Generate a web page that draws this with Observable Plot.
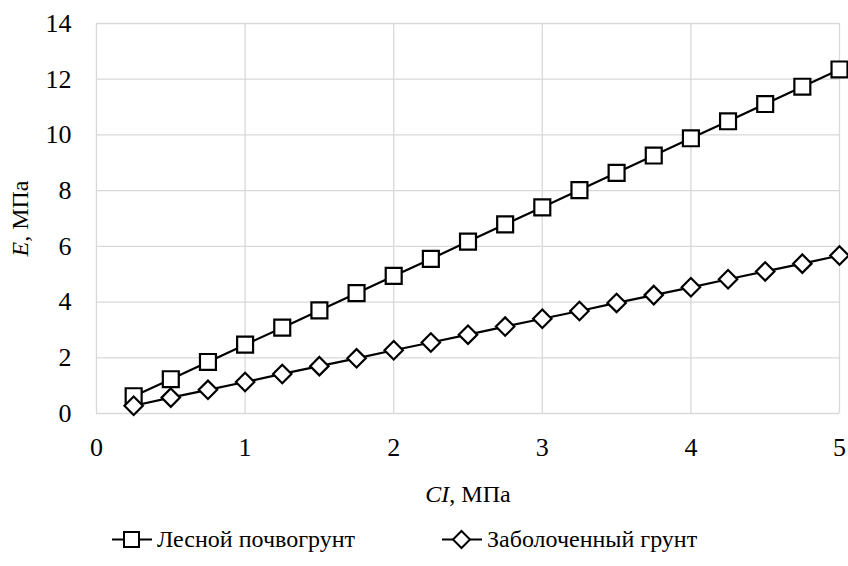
<!DOCTYPE html>
<html>
<head>
<meta charset="utf-8">
<script src="https://cdn.jsdelivr.net/npm/d3@7"></script>
<script src="https://cdn.jsdelivr.net/npm/@observablehq/plot@0.6"></script>
<style>
  html, body { margin: 0; padding: 0; background: #fff; }
  #chart { width: 848px; font-family: "Liberation Serif", "Times New Roman", serif; }
  #legend { position: relative; height: 56px; font-size: 24px; color: #000; }
  .item { display: flex; align-items: center; position: absolute; }
</style>
</head>
<body>
<div id="chart"></div>
<script>
const ci = [0.25, 0.5, 0.75, 1, 1.25, 1.5, 1.75, 2, 2.25, 2.5, 2.75, 3, 3.25, 3.5, 3.75, 4, 4.25, 4.5, 4.75, 5];
const forestSoil = [0.62, 1.23, 1.85, 2.47, 3.08, 3.70, 4.32, 4.94, 5.55, 6.17, 6.79, 7.40, 8.02, 8.64, 9.26, 9.88, 10.49, 11.11, 11.73, 12.35];
const swampSoil = [0.28, 0.57, 0.85, 1.13, 1.42, 1.70, 1.98, 2.27, 2.55, 2.83, 3.12, 3.40, 3.68, 3.97, 4.25, 4.53, 4.82, 5.10, 5.38, 5.67];
const seriesNames = ["Лесной почвогрунт", "Заболоченный грунт"];
const xTicks = [0, 1, 2, 3, 4, 5];
const yTicks = [0, 2, 4, 6, 8, 10, 12, 14];

const rows1 = ci.map((x, i) => ({x, y: forestSoil[i]}));
const rows2 = ci.map((x, i) => ({x, y: swampSoil[i]}));

const plot = Plot.plot({
  width: 848,
  height: 510,
  marginTop: 23,
  marginBottom: 97,
  marginLeft: 96,
  marginRight: 9,
  style: {fontFamily: "'Liberation Serif', 'Times New Roman', serif", fontSize: "24px", color: "#000", background: "#fff", overflow: "visible"},
  x: {domain: [0, 5]},
  y: {domain: [0, 14]},
  marks: [
    Plot.gridX(xTicks, {stroke: "#d9d9d9", strokeOpacity: 1, strokeWidth: 1.3}),
    Plot.gridY(yTicks, {stroke: "#d9d9d9", strokeOpacity: 1, strokeWidth: 1.3}),
    Plot.axisX(xTicks, {tickSize: 0, tickPadding: 24, tickFormat: d3.format("d"), label: null, fontSize: 26}),
    Plot.axisX({ticks: [], label: "CI, МПа", labelAnchor: "center", labelArrow: "none", labelOffset: 88, fontSize: 24}),
    Plot.axisY(yTicks, {tickSize: 0, tickPadding: 25, tickFormat: d3.format("d"), label: null, fontSize: 26}),
    Plot.axisY({ticks: [], label: "E, МПа", labelAnchor: "center", labelArrow: "none", labelOffset: 86, fontSize: 24}),
    Plot.line(rows1, {x: "x", y: "y", stroke: "#000", strokeWidth: 2.2}),
    Plot.line(rows2, {x: "x", y: "y", stroke: "#000", strokeWidth: 2.2}),
    Plot.dot(rows1, {x: "x", y: "y", symbol: "square", r: 9, fill: "#fff", stroke: "#000", strokeWidth: 2.2}),
    Plot.dot(rows2, {x: "x", y: "y", symbol: "diamond2", r: 8.3, fill: "#fff", stroke: "#000", strokeWidth: 2.2})
  ]
});

document.getElementById("chart").appendChild(plot);

// Italicize variable names in axis labels
d3.select(plot).selectAll('[aria-label="x-axis label"] text').each(function() {
  const t = d3.select(this); t.text(null);
  t.append("tspan").attr("font-style", "italic").text("CI");
  t.append("tspan").text(", МПа");
});
d3.select(plot).selectAll('[aria-label="y-axis label"] text').each(function() {
  const t = d3.select(this); t.text(null);
  t.append("tspan").attr("font-style", "italic").text("E");
  t.append("tspan").text(", МПа");
});

// Legend
const legend = document.createElement("div");
legend.id = "legend";
const items = [
  {name: seriesNames[0], symbol: "square", left: 111},
  {name: seriesNames[1], symbol: "diamond", left: 441}
];
for (const it of items) {
  const div = document.createElement("div");
  div.className = "item";
  div.style.left = it.left + "px";
  div.style.top = "16px";
  const shape = it.symbol === "square"
    ? '<rect x="13" y="4" width="15" height="15" fill="#fff" stroke="#000" stroke-width="2"/>'
    : '<path d="M20.5 3 L29 11.5 L20.5 20 L12 11.5 Z" fill="#fff" stroke="#000" stroke-width="2"/>';
  div.innerHTML = `<svg width="42" height="23" style="margin-right:4px"><line x1="1" x2="41" y1="11.5" y2="11.5" stroke="#000" stroke-width="2"/>${shape}</svg><span>${it.name}</span>`;
  legend.appendChild(div);
}
document.getElementById("chart").appendChild(legend);
</script>
</body>
</html>
